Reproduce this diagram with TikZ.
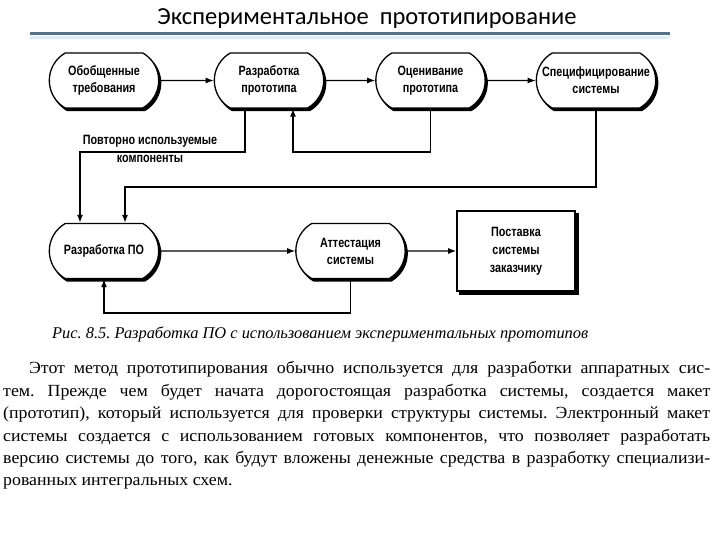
\documentclass[tikz,border=0pt]{standalone}
\usepackage{fontspec}
\setmainfont{Liberation Serif}
\newfontfamily\titlefont{Carlito}
\newfontfamily\bodyfont[FakeStretch=1.05]{Liberation Serif}
\newfontfamily\diagfont[FakeStretch=0.8]{Liberation Sans}
\usetikzlibrary{shapes.misc,shadows,arrows.meta}
\frenchspacing

\definecolor{rulegray}{RGB}{84,115,135}
\definecolor{rulelight}{RGB}{222,238,246}

\newcommand{\textrow}[2]{\makebox[#1][s]{#2}}

\tikzset{
  stage/.style={rounded rectangle, rounded rectangle arc length=120,
    draw, line width=1.3pt, fill=white, minimum width=116pt,
    minimum height=55pt, align=center,
    font=\diagfont\bfseries\fontsize{13.5pt}{17pt}\selectfont,
    copy shadow={shadow xshift=2pt, shadow yshift=-2.5pt, fill=black, draw=black}},
  deliver/.style={rectangle, draw, line width=1.6pt, fill=white,
    minimum width=118pt, minimum height=80pt, align=center,
    font=\diagfont\bfseries\fontsize{13.5pt}{18pt}\selectfont,
    copy shadow={shadow xshift=3pt, shadow yshift=-3pt, fill=black, draw=black}},
  flow/.style={->, line width=1.3pt},
  bodyline/.style={anchor=base west, inner sep=0pt, font=\bodyfont\fontsize{17pt}{20pt}\selectfont}
}

\begin{document}
\begin{tikzpicture}[x=1pt, y=1pt, >={Latex[length=8pt,width=6pt]}]
  \useasboundingbox (0,0) rectangle (720,540);

  % Title and rule
  \node[anchor=base, font=\titlefont\fontsize{24.5pt}{28pt}\selectfont] (title) at (367,515)
    {Экспериментальное\ \ прототипирование};
  \draw[rulelight, line width=3pt] (30,502) -- (670,502);
  \draw[rulegray, line width=3pt] (30,506) -- (670,506);

  % Draw the stages
  \node[stage] (general) at (104,459.5) {Обобщенные\\требования};
  \node[stage] (proto) at (269,459.5) {Разработка\\прототипа};
  \node[stage] (assess) at (430.5,459.5) {Оценивание\\прототипа};
  \node[stage, minimum width=126pt] (spec) at (596,459.5) {Специфицирование\\системы};
  \node[stage] (dev) at (104,289) {Разработка ПО};
  \node[stage] (test) at (350.5,289) {Аттестация\\системы};
  \node[deliver] (ship) at (516,289) {Поставка\\системы\\заказчику};

  % Bend points
  \coordinate (reuse) at (80,388);
  \coordinate (evalbend) at (293,388);
  \coordinate (specbend) at (125,353);
  \coordinate (testbend) at (350.5,227);

  % Draw the connectors
  \draw[flow] (general) -- (proto);
  \draw[flow] (proto) -- (assess);
  \draw[flow] (assess) -- (spec);
  \draw[flow] ([xshift=-24pt]proto.south) |- (reuse) -- (reuse |- dev.north);
  \draw[flow] (assess.south) |- (evalbend) -- (evalbend |- proto.south);
  \draw[flow] (spec.south) |- (specbend) -- (specbend |- dev.north);
  \draw[flow] (dev) -- (test);
  \draw[flow] (test) -- (ship);
  \draw[flow] (test.south) -- (testbend) -| (dev.south);

  \node[align=center, font=\diagfont\bfseries\fontsize{13.5pt}{18pt}\selectfont] (reuselabel) at (150,391)
    {Повторно используемые\\компоненты};

  % Caption and text
  \node[anchor=base west, inner sep=0pt, font=\itshape\fontsize{16.4pt}{20pt}\selectfont] (caption) at (52,201)
    {Рис. 8.5. Разработка ПО с использованием экспериментальных прототипов};
  \node[bodyline] (row1) at (29,166) {\textrow{681pt}{Этот метод прототипирования обычно используется для разработки аппаратных сис-}};
  \node[bodyline] (row2) at (3,143.6) {\textrow{707pt}{тем. Прежде чем будет начата дорогостоящая разработка системы, создается макет}};
  \node[bodyline] (row3) at (3,121.2) {\textrow{707pt}{(прототип), который используется для проверки структуры системы. Электронный макет}};
  \node[bodyline] (row4) at (3,98.8) {\textrow{707pt}{системы создается с использованием готовых компонентов, что позволяет разработать}};
  \node[bodyline] (row5) at (3,76.4) {\textrow{707pt}{версию системы до того, как будут вложены денежные средства в разработку специализи-}};
  \node[bodyline] (row6) at (3,54) {рованных интегральных схем.};
\end{tikzpicture}
\end{document}
